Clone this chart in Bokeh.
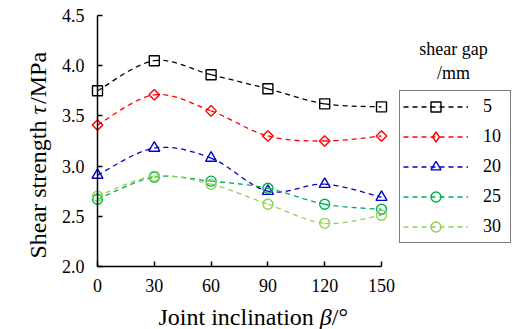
import numpy as np
from bokeh.plotting import figure
from bokeh.models import (Range1d, FixedTicker, PrintfTickFormatter, Legend, LegendItem, Label)
from bokeh.embed import file_html
from bokeh.resources import INLINE

beta = [0, 30, 60, 90, 120, 150]
gaps = ["5", "10", "20", "25", "30"]
tau_5 = [3.75, 4.05, 3.91, 3.77, 3.62, 3.59]
tau_10 = [3.41, 3.71, 3.55, 3.30, 3.25, 3.30]
tau_20 = [2.91, 3.18, 3.08, 2.75, 2.82, 2.69]
tau_25 = [2.67, 2.89, 2.85, 2.78, 2.62, 2.57]
tau_30 = [2.70, 2.90, 2.82, 2.62, 2.43, 2.51]
series = [tau_5, tau_10, tau_20, tau_25, tau_30]
x_ticks = [0, 30, 60, 90, 120, 150]
y_ticks = [2.0, 2.5, 3.0, 3.5, 4.0, 4.5]

colors = ["#000000", "#FF0000", "#0000CC", "#00B050", "#92D050"]
markers = ["square", "square", "triangle", "circle", "circle"]
legend_markers = ["square", "diamond", "triangle", "circle", "circle"]
angles = [0, np.pi / 4, 0, 0, 0]
sizes = [10, 7.5, 11, 10, 10]

FONT = "Liberation Serif"
W, H = 512, 329
# frame covers the whole canvas; axes drawn at fixed locations
fx0, fx1 = 97, 381     # pixel of x=0 and x=150
fy0, fy1 = 266, 15     # pixel of y=2.0 and y=4.5
xs = (fx1 - fx0) / (x_ticks[-1] - x_ticks[0])
ys = (fy0 - fy1) / (y_ticks[-1] - y_ticks[0])
x_lo = x_ticks[0] - fx0 / xs
x_hi = x_ticks[-1] + (W - fx1) / xs
y_hi = y_ticks[-1] + fy1 / ys
y_lo = y_ticks[0] - (H - fy0) / ys

p = figure(width=W, height=H, output_backend="svg", toolbar_location=None,
           x_range=Range1d(x_lo, x_hi), y_range=Range1d(y_lo, y_hi),
           min_border=0)
p.outline_line_color = None
p.xgrid.visible = False
p.ygrid.visible = False
p.background_fill_color = "white"

for ax in (p.xaxis, p.yaxis):
    ax.axis_line_color = "black"
    ax.axis_line_width = 1.5
    ax.major_tick_line_color = "black"
    ax.major_tick_line_width = 1.5
    ax.major_tick_in = 5
    ax.major_tick_out = 0
    ax.minor_tick_line_color = None
    ax.major_label_text_font = FONT
    ax.major_label_text_font_style = "normal"
    ax.major_label_text_font_size = "18px"
    ax.major_label_text_color = "black"

p.xaxis.fixed_location = y_ticks[0]
p.yaxis.fixed_location = x_ticks[0]
p.xaxis.bounds = (x_ticks[0], x_ticks[-1])
p.yaxis.bounds = (y_ticks[0], y_ticks[-1])
p.xaxis.ticker = FixedTicker(ticks=x_ticks)
p.yaxis.ticker = FixedTicker(ticks=y_ticks)
p.yaxis.formatter = PrintfTickFormatter(format="%.1f")
p.xaxis.major_label_standoff = 12
p.yaxis.major_label_standoff = 13


def catmull(xv, yv):
    xv = np.asarray(xv, float)
    yv = np.asarray(yv, float)
    n = len(xv)
    px = np.concatenate([[xv[0]], xv, [xv[-1]]])
    py = np.concatenate([[yv[0]], yv, [yv[-1]]])
    out = {k: [] for k in ("x0", "y0", "x1", "y1", "cx0", "cy0", "cx1", "cy1")}
    for i in range(1, n):
        P0 = (px[i - 1], py[i - 1]); P1 = (px[i], py[i])
        P2 = (px[i + 1], py[i + 1]); P3 = (px[i + 2], py[i + 2])
        out["x0"].append(P1[0]); out["y0"].append(P1[1])
        out["x1"].append(P2[0]); out["y1"].append(P2[1])
        out["cx0"].append(P1[0] + (P2[0] - P0[0]) / 6); out["cy0"].append(P1[1] + (P2[1] - P0[1]) / 6)
        out["cx1"].append(P2[0] - (P3[0] - P1[0]) / 6); out["cy1"].append(P2[1] - (P3[1] - P1[1]) / 6)
    return out


items = []
for name, vals, c, m, lm, a, s in zip(gaps, series, colors, markers, legend_markers, angles, sizes):
    d = catmull(beta, vals)
    r1 = p.bezier(x0=d["x0"], y0=d["y0"], x1=d["x1"], y1=d["y1"],
                  cx0=d["cx0"], cy0=d["cy0"], cx1=d["cx1"], cy1=d["cy1"],
                  line_color=c, line_width=1.3, line_dash="5 4")
    p.scatter(beta, vals, marker=m, angle=a, size=s, line_color=c, line_width=1.4,
              fill_color=None)
    # legend-only marker (a single NaN point, draws nothing in the plot)
    r3 = p.scatter(x=[np.nan], y=[np.nan], marker=lm, size=s, line_color=c, line_width=1.4,
                   fill_color=None)
    items.append(LegendItem(label=name, renderers=[r1, r3], index=0))

legend = Legend(items=items, location=(399, 86))
legend.label_text_font = FONT
legend.label_text_font_style = "normal"
legend.label_text_font_size = "18px"
legend.label_text_color = "black"
legend.glyph_width = 65
legend.glyph_height = 25
legend.label_height = 25
legend.label_width = 24
legend.spacing = 5
legend.padding = 3
legend.label_standoff = 15
legend.border_line_color = "black"
legend.border_line_width = 1.5
legend.background_fill_alpha = 1.0
legend.margin = 0
p.add_layout(legend, "center")

# legend title
p.add_layout(Label(x=453, y=281, x_units="screen", y_units="screen", text="shear gap",
                   text_font=FONT, text_font_style="normal", text_font_size="18px",
                   text_align="center", text_baseline="middle", text_color="black"))
p.add_layout(Label(x=453, y=257, x_units="screen", y_units="screen", text="/mm",
                   text_font=FONT, text_font_style="normal", text_font_size="18px",
                   text_align="center", text_baseline="middle", text_color="black"))

# x axis label with italic beta
fs = 24
parts_x = [("Joint inclination ", "normal", 6.723), ("β", "italic", 0.5), ("/°", "normal", 0.678)]
cur = 158
for t, st, w in parts_x:
    p.add_layout(Label(x=cur, y=13, x_units="screen", y_units="screen", text=t,
                       text_font=FONT, text_font_size=f"{fs}px", text_font_style=st,
                       text_align="left", text_baseline="alphabetic", text_color="black"))
    cur += w * fs

# y axis label with italic tau
parts_y = [("Shear strength ", "normal", 5.999), ("τ", "italic", 0.44), ("/MPa", "normal", 2.167)]
cur = 71
for t, st, w in parts_y:
    p.add_layout(Label(x=37, y=cur, x_units="screen", y_units="screen", text=t, angle=np.pi / 2,
                       text_font=FONT, text_font_size=f"{fs}px", text_font_style=st,
                       text_align="left", text_baseline="alphabetic", text_color="black"))
    cur += w * fs

open("out.html", "w").write(file_html(p, INLINE))
